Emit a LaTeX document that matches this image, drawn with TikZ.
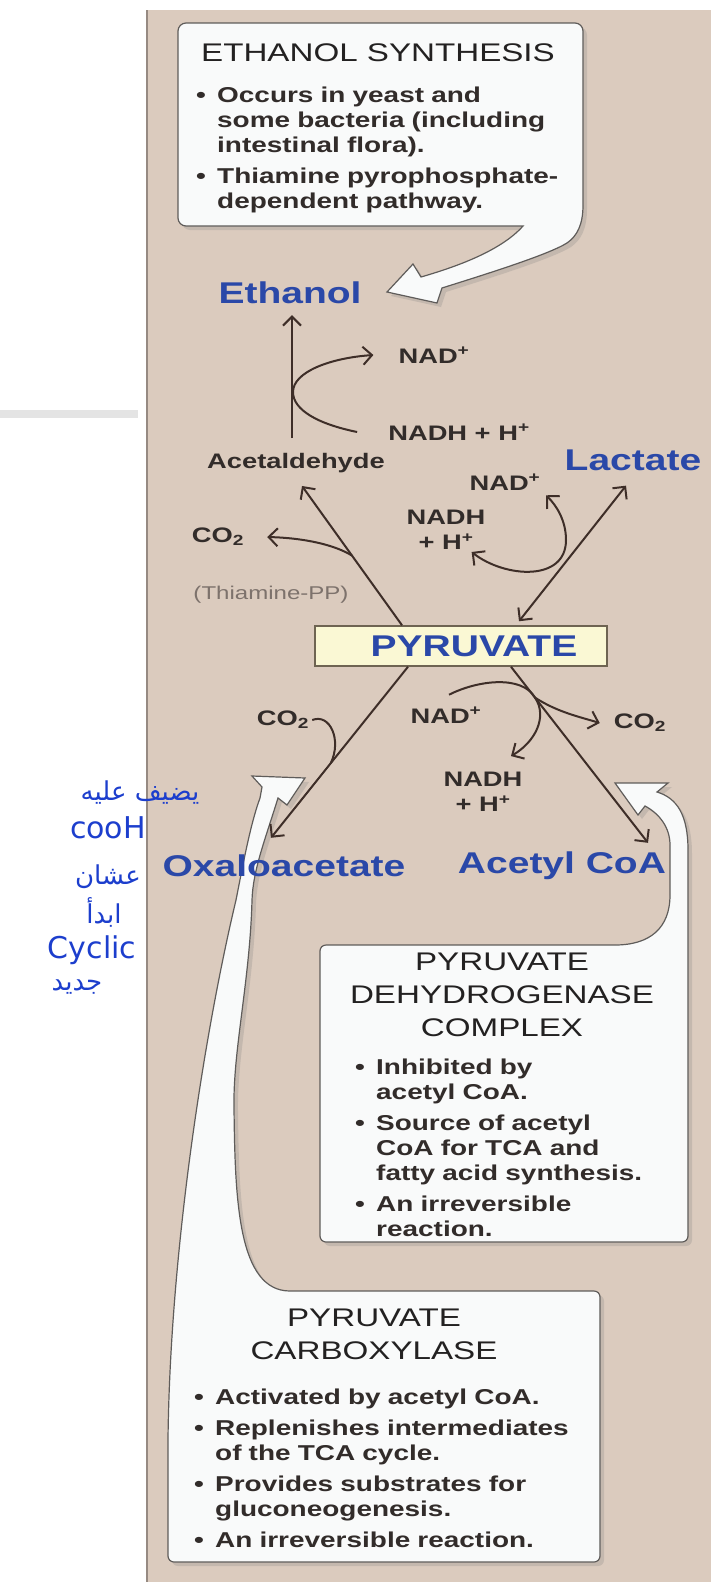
\documentclass[tikz,border=0pt]{standalone}
\usepackage{fontspec}
\setmainfont{Liberation Sans}[FakeStretch=1.3]
\newfontfamily\arabicfont[Script=Arabic]{DejaVu Sans}
\newfontfamily\penfont{DejaVu Sans}
\TeXXeTstate=1
\usetikzlibrary{arrows.meta,backgrounds,shadows}

\definecolor{panelbg}{RGB}{219,203,190}
\definecolor{panelrim}{RGB}{150,138,130}
\definecolor{barflat}{RGB}{228,228,228}
\definecolor{notefill}{RGB}{249,250,250}
\definecolor{noterim}{RGB}{95,92,90}
\definecolor{labelblue}{RGB}{42,72,168}
\definecolor{inkdark}{RGB}{50,44,42}
\definecolor{inkblack}{RGB}{35,33,33}
\definecolor{arrowink}{RGB}{62,46,40}
\definecolor{cofactorgrey}{RGB}{125,114,108}
\definecolor{pyrfill}{RGB}{250,248,212}
\definecolor{pyrrim}{RGB}{110,100,82}
\definecolor{penblue}{RGB}{28,62,205}

\newcommand{\notebullet}[1]{\leftskip=21pt\noindent\llap{\makebox[21pt][l]{\textbullet}}#1\par}

\tikzset{
  metab/.style={font=\fontsize{30}{34}\selectfont\bfseries, text=labelblue, inner sep=1pt},
  cofactor/.style={font=\fontsize{21}{25}\selectfont\bfseries, text=inkdark, inner sep=1pt, align=center},
  cofactornote/.style={font=\fontsize{18.5}{22}\selectfont, text=cofactorgrey, inner sep=1pt},
  notehead/.style={font=\fontsize{25.5}{33}\selectfont, text=inkblack, align=center, inner sep=0pt},
  notebody/.style={font=\fontsize{21.5}{25}\selectfont\bfseries, text=inkdark, align=left,
    inner sep=0pt, anchor=north west, execute at begin node={\setlength{\parskip}{6pt}}},
  callout/.style={fill=notefill, draw=noterim, line width=1.2pt,
    drop shadow={opacity=0.25, shadow xshift=4pt, shadow yshift=-4pt}},
  pyrbox/.style={rectangle, draw=pyrrim, line width=1.5pt, fill=pyrfill,
    minimum width=292pt, minimum height=40pt, font=\fontsize{30}{34}\selectfont\bfseries, text=labelblue},
  rxnline/.style={draw=arrowink, line width=2pt},
  rxn/.style={rxnline, -{Straight Barb[length=9pt,width=18pt]}},
  rxnboth/.style={rxnline, {Straight Barb[length=9pt,width=18pt]}-{Straight Barb[length=9pt,width=18pt]}},
  handnote/.style={text=penblue, inner sep=0pt, font=\fontsize{26}{30}\selectfont}
}

\begin{document}
\begin{tikzpicture}[x=1pt, y=-1pt]
  \useasboundingbox (0,0) rectangle (711,1582);

  % note texts
  \node[notehead] (ethhead) at (378,53) {ETHANOL SYNTHESIS};
  \node[notebody, text width=380pt] (ethbody) at (196,87) {\notebullet{Occurs in yeast and\newline some bacteria (including\newline intestinal flora).}\notebullet{Thiamine pyrophosphate-\newline dependent pathway.}};
  \node[notehead] (pdhhead) at (502,995) {PYRUVATE\\DEHYDROGENASE\\COMPLEX};
  \node[notebody, text width=320pt] (pdhbody) at (355,1059) {\notebullet{Inhibited by\newline acetyl CoA.}\notebullet{Source of acetyl\newline CoA for TCA and\newline fatty acid synthesis.}\notebullet{An irreversible\newline reaction.}};
  \node[notehead] (pchead) at (374,1334) {PYRUVATE\\CARBOXYLASE};
  \node[notebody, text width=395pt] (pcbody) at (194,1389) {\notebullet{Activated by acetyl CoA.}\notebullet{Replenishes intermediates\newline of the TCA cycle.}\notebullet{Provides substrates for\newline gluconeogenesis.}\notebullet{An irreversible reaction.}};

  % metabolites and cofactors
  \node[metab] (ethanol) at (290,293) {Ethanol};
  \node[cofactor] (nadtop) at (434,355) {NAD\textsuperscript{+}};
  \node[cofactor] (nadhtop) at (459,432) {NADH + H\textsuperscript{+}};
  \node[cofactor] (acetald) at (296,463) {Acetaldehyde};
  \node[metab] (lactate) at (633,460) {Lactate};
  \node[cofactor] (nadlac) at (505,482) {NAD\textsuperscript{+}};
  \node[cofactor] (nadhlac) at (446,530) {NADH\\+ H\textsuperscript{+}};
  \node[cofactor] (co2top) at (218,537) {CO\textsubscript{2}};
  \node[cofactornote] (thiamine) at (271,595) {(Thiamine-PP)};
  \node[pyrbox] (pyruvate) at (461,646) {\hspace*{26pt}PYRUVATE};
  \node[cofactor] (co2pc) at (283,720) {CO\textsubscript{2}};
  \node[cofactor] (nadpdh) at (446,715) {NAD\textsuperscript{+}};
  \node[cofactor] (nadhpdh) at (483,792) {NADH\\+ H\textsuperscript{+}};
  \node[cofactor] (co2pdh) at (640,723) {CO\textsubscript{2}};
  \node[metab] (oxalo) at (284,866) {Oxaloacetate};
  \node[metab] (acetylcoa) at (562,866) {Acetyl CoA};

  % reactions
  \draw[rxn] ([xshift=-4pt,yshift=14pt]acetald.north) -- ([xshift=2pt,yshift=-10pt]ethanol.south);
  \draw[rxn] ([xshift=-30pt]nadhtop.west) .. controls (318,424) and (293,410) .. (293,392)
    .. controls (293,372) and (330,358) .. ([xshift=-24pt]nadtop.west);
  \draw[rxn] ([xshift=-59pt]pyruvate.north) -- coordinate[pos=0.5] (co2fork) ([xshift=6pt,yshift=-12pt]acetald.south);
  \draw[rxn] (co2fork) .. controls (335,545) and (305,538) .. ([xshift=22pt]co2top.east);
  \draw[rxnboth] ([xshift=58pt,yshift=4pt]pyruvate.north) -- ([xshift=-7pt,yshift=-14pt]lactate.south);
  \draw[rxnboth] ([xshift=-15pt,yshift=-22pt]nadhlac.east) .. controls (505,578) and (566,582) .. (566,540)
    .. controls (566,520) and (556,505) .. ([xshift=41pt,yshift=-4pt]nadlac.south);
  \draw[rxn] ([xshift=-53pt]pyruvate.south) -- coordinate[pos=0.564] (co2join) ([xshift=-13pt,yshift=16pt]oxalo.north);
  \draw[rxnline] ([xshift=2pt]co2pc.east) .. controls (330,713) and (342,740) .. (co2join);
  \draw[rxn] ([xshift=50pt]pyruvate.south) -- coordinate[pos=0.175] (pdhfork) ([xshift=86pt,yshift=8pt]acetylcoa.north);
  \draw[rxn] ([xshift=3pt,yshift=11pt]nadpdh.north) .. controls (478,680) and (522,675) .. (pdhfork)
    .. controls (548,717) and (535,742) .. ([xshift=28pt,yshift=15pt]nadhpdh.north);
  \draw[rxn] (pdhfork) .. controls (557,712) and (580,717) .. ([xshift=-13pt]co2pdh.west);

  % handwritten notes
  \node[handnote] (penline1) at (140,793) {\arabicfont\beginR يضيف عليه\endR};
  \node[handnote] (penline2) at (108,828) {\penfont\fontsize{30}{32}\selectfont cooH};
  \node[handnote] (penline3) at (108,877) {\arabicfont\beginR عشان\endR};
  \node[handnote] (penline4) at (104,912) {\arabicfont\beginR ابدأ\endR};
  \node[handnote] (penline5) at (92,950) {\penfont\fontsize{30}{32}\selectfont Cyclic};
  \node[handnote] (penline6) at (77,987) {\arabicfont\beginR جديد\endR};

  \begin{scope}[on background layer]
    \fill[panelbg] (146,10) rectangle (711,1582);
    \draw[panelrim, line width=2.5pt] (147,10) -- (147,1582);
    \fill[barflat] (0,410) rectangle (138,418);
    % ethanol synthesis note
    \path[callout] (178,120) [rounded corners=8pt] -- (178,23) -- (583,23) -- (583,150)
      [sharp corners] -- (583,205) .. controls (583,225) and (577,236) .. (567,243)
      .. controls (548,255) and (480,276) .. (442,288) -- (437,303) -- (387,292) -- (413,264) -- (421,277)
      .. controls (452,268) and (500,252) .. (523,226) -- (400,226)
      [rounded corners=8pt] -- (178,226) -- cycle;
    % pyruvate dehydrogenase note
    \path[callout] (320,1100) [rounded corners=6pt] -- (320,945) -- (500,945)
      [sharp corners] -- (615,945) .. controls (650,945) and (670,928) .. (670,895)
      -- (670,845) .. controls (670,828) and (660,814) .. (645,806) -- (638,815) -- (615,783) -- (668,783) -- (657,792)
      .. controls (677,798) and (688,815) .. (688,850) -- (688,1100)
      [rounded corners=6pt] -- (688,1242) -- (320,1242) -- cycle;
    % pyruvate carboxylase note
    \path[callout] (600,1400) [rounded corners=6pt] -- (600,1562) -- (168,1562) -- (168,1480)
      [sharp corners] -- (168,1440) .. controls (170,1250) and (205,1030) .. (236,900)
      .. controls (242,870) and (250,825) .. (260,798) -- (262,787) -- (252,776) -- (305,778) -- (287,805) -- (278,798)
      .. controls (265,840) and (253,870) .. (252,900) .. controls (250,980) and (233,1050) .. (234,1107)
      .. controls (235,1200) and (238,1291) .. (290,1291) -- (450,1291)
      [rounded corners=6pt] -- (600,1291) -- cycle;
  \end{scope}
\end{tikzpicture}
\end{document}
